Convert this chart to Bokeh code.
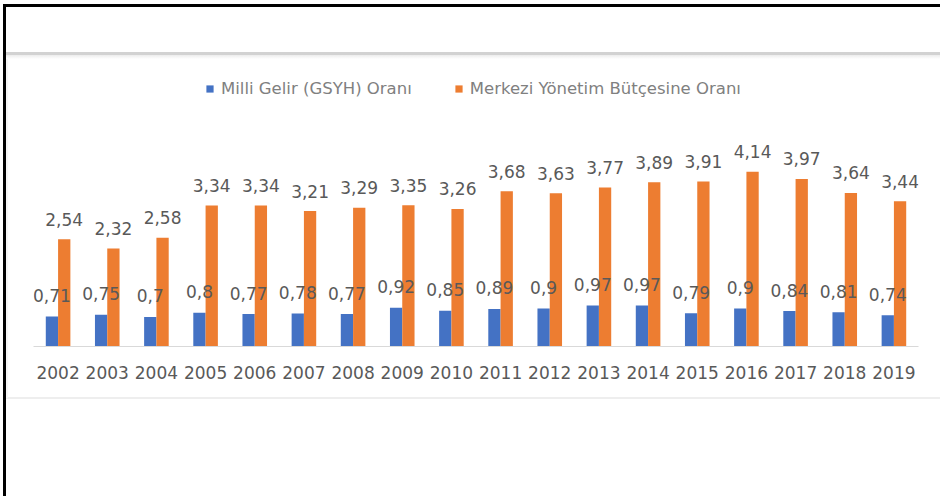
from bokeh.plotting import figure
from bokeh.models import FactorRange, Range1d, ColumnDataSource, Legend, LegendItem
from bokeh.transform import dodge
from bokeh.core.properties import value
from bokeh.embed import file_html
from bokeh.resources import INLINE

years = ["2002", "2003", "2004", "2005", "2006", "2007", "2008", "2009", "2010",
         "2011", "2012", "2013", "2014", "2015", "2016", "2017", "2018", "2019"]
gsyh = [0.71, 0.75, 0.7, 0.8, 0.77, 0.78, 0.77, 0.92, 0.85,
        0.89, 0.9, 0.97, 0.97, 0.79, 0.9, 0.84, 0.81, 0.74]
butce = [2.54, 2.32, 2.58, 3.34, 3.34, 3.21, 3.29, 3.35, 3.26,
         3.68, 3.63, 3.77, 3.89, 3.91, 4.14, 3.97, 3.64, 3.44]
series_names = ["Milli Gelir (GSYH) Oranı", "Merkezi Yönetim Bütçesine Oranı"]

BLUE = "#4472C4"
ORANGE = "#ED7D31"
GRAY = "#595959"
FONT = "DejaVu Sans"


def fmt(v):
    return str(v).replace(".", ",")


src = ColumnDataSource(dict(
    year=years, gsyh=gsyh, butce=butce,
    gsyh_lbl=[fmt(v) for v in gsyh], butce_lbl=[fmt(v) for v in butce],
))

W, H = 940, 496
p = figure(x_range=FactorRange(factors=years, range_padding=0), y_range=Range1d(0, 6.73),
           width=W, height=H, output_backend="svg", toolbar_location=None,
           min_border_left=33, min_border_right=22, min_border_top=62, min_border_bottom=150,
           y_axis_location=None)
p.styles = {
    "background": (
        "linear-gradient(black, black) 3px 4px / 3px 492px no-repeat, "
        "linear-gradient(black, black) 3px 4px / 937px 3px no-repeat, "
        "linear-gradient(#d2d2d2, #d2d2d2) 6px 52px / 934px 3px no-repeat, "
        "linear-gradient(#ececec, #ffffff) 6px 55px / 934px 4px no-repeat, "
        "linear-gradient(#f6f6f6, #f6f6f6) 6px 55px / 2px 343px no-repeat, "
        "linear-gradient(#eeeeee, #eeeeee) 6px 397px / 934px 2px no-repeat, "
        "white"
    ),
}

p.background_fill_alpha = 0
p.border_fill_alpha = 0
p.outline_line_color = None
p.xgrid.visible = False
p.ygrid.visible = False

xb = dodge("year", -0.125, range=p.x_range)
xo = dodge("year", 0.125, range=p.x_range)

r1 = p.vbar(x=xb, top="gsyh", width=0.25, source=src, fill_color=BLUE, line_color=None)
r2 = p.vbar(x=xo, top="butce", width=0.25, source=src, fill_color=ORANGE, line_color=None)
p.text(x=xb, y="gsyh", text="gsyh_lbl", source=src, text_align="center",
       text_baseline="middle", y_offset=-21, text_font=value(FONT),
       text_font_size="17px", text_color=GRAY)
p.text(x=xo, y="butce", text="butce_lbl", source=src, text_align="center",
       text_baseline="middle", y_offset=-20, text_font=value(FONT),
       text_font_size="17px", text_color=GRAY)

legend = Legend(items=[LegendItem(label=series_names[0], renderers=[r1]),
                       LegendItem(label=series_names[1], renderers=[r2])],
                orientation="horizontal", location=(172, 248), padding=0, margin=0,
                spacing=42, label_standoff=7, glyph_width=9, glyph_height=9,
                label_text_font=FONT, label_text_font_size="16.5px",
                label_text_color="#808080", label_text_baseline="middle",
                border_line_color=None, background_fill_alpha=0)
p.add_layout(legend)

ax = p.xaxis[0]
ax.axis_line_color = "#d9d9d9"
ax.axis_line_width = 1
ax.major_tick_line_color = None
ax.minor_tick_line_color = None
ax.major_tick_out = 0
ax.major_label_standoff = 19
ax.major_label_text_font = FONT
ax.major_label_text_font_size = "17px"
ax.major_label_text_color = GRAY

open("out.html", "w").write(file_html(p, INLINE))
